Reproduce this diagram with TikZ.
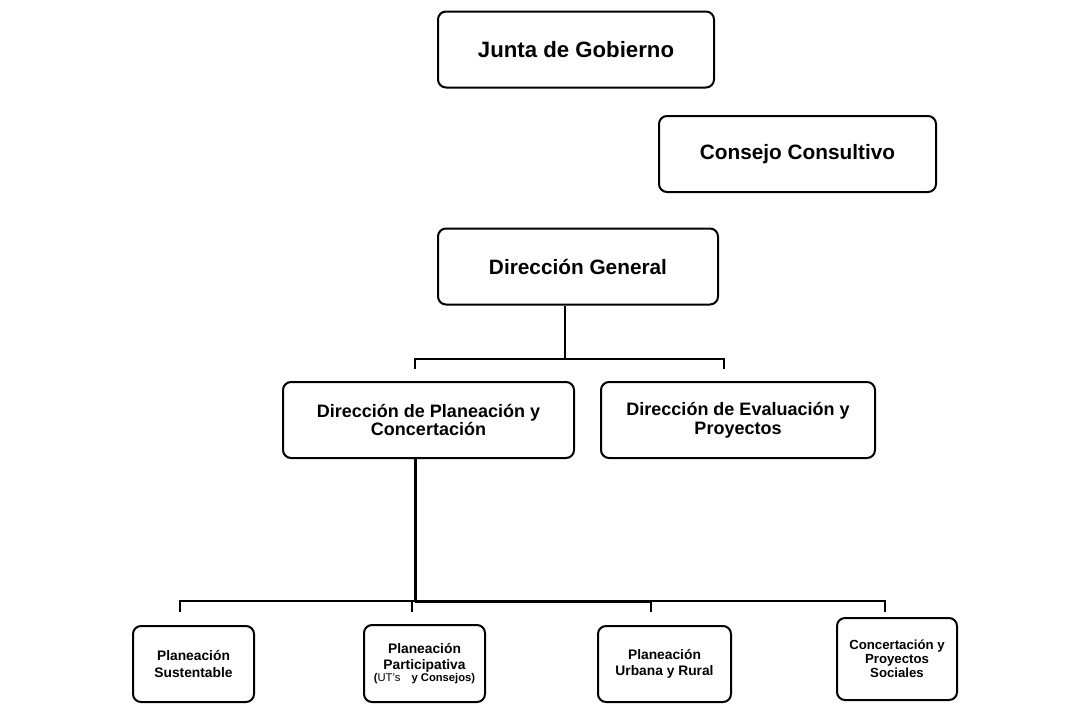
\documentclass[tikz,border=0pt]{standalone}
\usepackage{fontspec}
\setmainfont{Liberation Sans}
\usetikzlibrary{positioning}
\definecolor{Trazo}{RGB}{0,0,0}
\tikzset{
  caja/.style={draw=Trazo, line width=1pt, rounded corners=4pt, fill=white,
    align=center, inner sep=1pt},
  cajaalta/.style={caja, minimum width=#1, minimum height=38pt,
    font=\fontsize{10.4}{12}\selectfont\bfseries},
  cajaalta/.default=138pt,
  cajamedia/.style={caja, minimum width=#1, minimum height=38pt,
    font=\fontsize{9}{9.4}\selectfont\bfseries},
  cajamedia/.default=140pt,
  cajachica/.style={caja, minimum width=#1, minimum height=38pt,
    font=\fontsize{6.9}{8.2}\selectfont\bfseries},
  cajachica/.default=60.5pt,
  linea/.style={draw=Trazo, line width=1pt},
  lineagruesa/.style={draw=Trazo, line width=1.5pt},
}
\begin{document}
\begin{tikzpicture}[x=0.5pt, y=-0.5pt]
  \useasboundingbox (0,0) rectangle (1068,723);
  % ---- nivel superior ----
  \node[cajaalta, font=\fontsize{11.1}{13}\selectfont\bfseries] (junta) at (576,49.5) {Junta de Gobierno};
  \node[cajaalta=138.5pt] (consejo) at (797.5,154) {Consejo Consultivo};
  \node[cajaalta=140pt] (dg) at (578,266.5) {Direcci\'on General};
  % ---- direcciones de area ----
  \node[cajamedia=145.5pt] (dpc) at (428.5,420) {Direcci\'on de Planeaci\'on y\\Concertaci\'on};
  \node[cajamedia=137pt] (dep) at (738,420) {Direcci\'on de Evaluaci\'on y\\Proyectos};
  % ---- areas operativas ----
  \node[cajachica] (sust) at (193.5,664) {Planeaci\'on\\Sustentable};
  \node[cajachica, minimum height=38.5pt] (part) at (424.5,663.5) {Planeaci\'on\\Participativa\\[-2pt]{\fontsize{5.6}{6}\selectfont(\mdseries UT’s\quad\bfseries y Consejos)}};
  \node[cajachica=66.5pt] (urb) at (664.5,664) {Planeaci\'on\\Urbana y Rural};
  \node[cajachica=60pt, minimum height=41pt, font=\fontsize{6.6}{5.9}\selectfont\bfseries] (conc) at (897,659) {Concertaci\'on y\\Proyectos\\Sociales};
  % ---- conectores ----
  \coordinate (bus1) at (565,359);
  \coordinate (caida1) at (415,369);
  \coordinate (caida2) at (724,369);
  \draw[linea] (dg.south -| bus1) -- (bus1);
  \draw[linea] (caida1) |- (bus1) -| (caida2);
  \coordinate (bus2) at (415,601);
  \coordinate (c1) at (180,612);
  \coordinate (c2) at (412,612);
  \coordinate (c3) at (651,612);
  \coordinate (c4) at (885,612);
  \draw[lineagruesa] (dpc.south -| bus2) -- (bus2);
  \draw[linea] (c1) |- (bus2) -- (bus2 -| c4) -- (c4);
  \draw[lineagruesa] (bus2) -- (bus2 -| c3);
  \draw[linea] (c2) -- (c2 |- bus2);
  \draw[linea] (c3) -- (c3 |- bus2);
\end{tikzpicture}
\end{document}
